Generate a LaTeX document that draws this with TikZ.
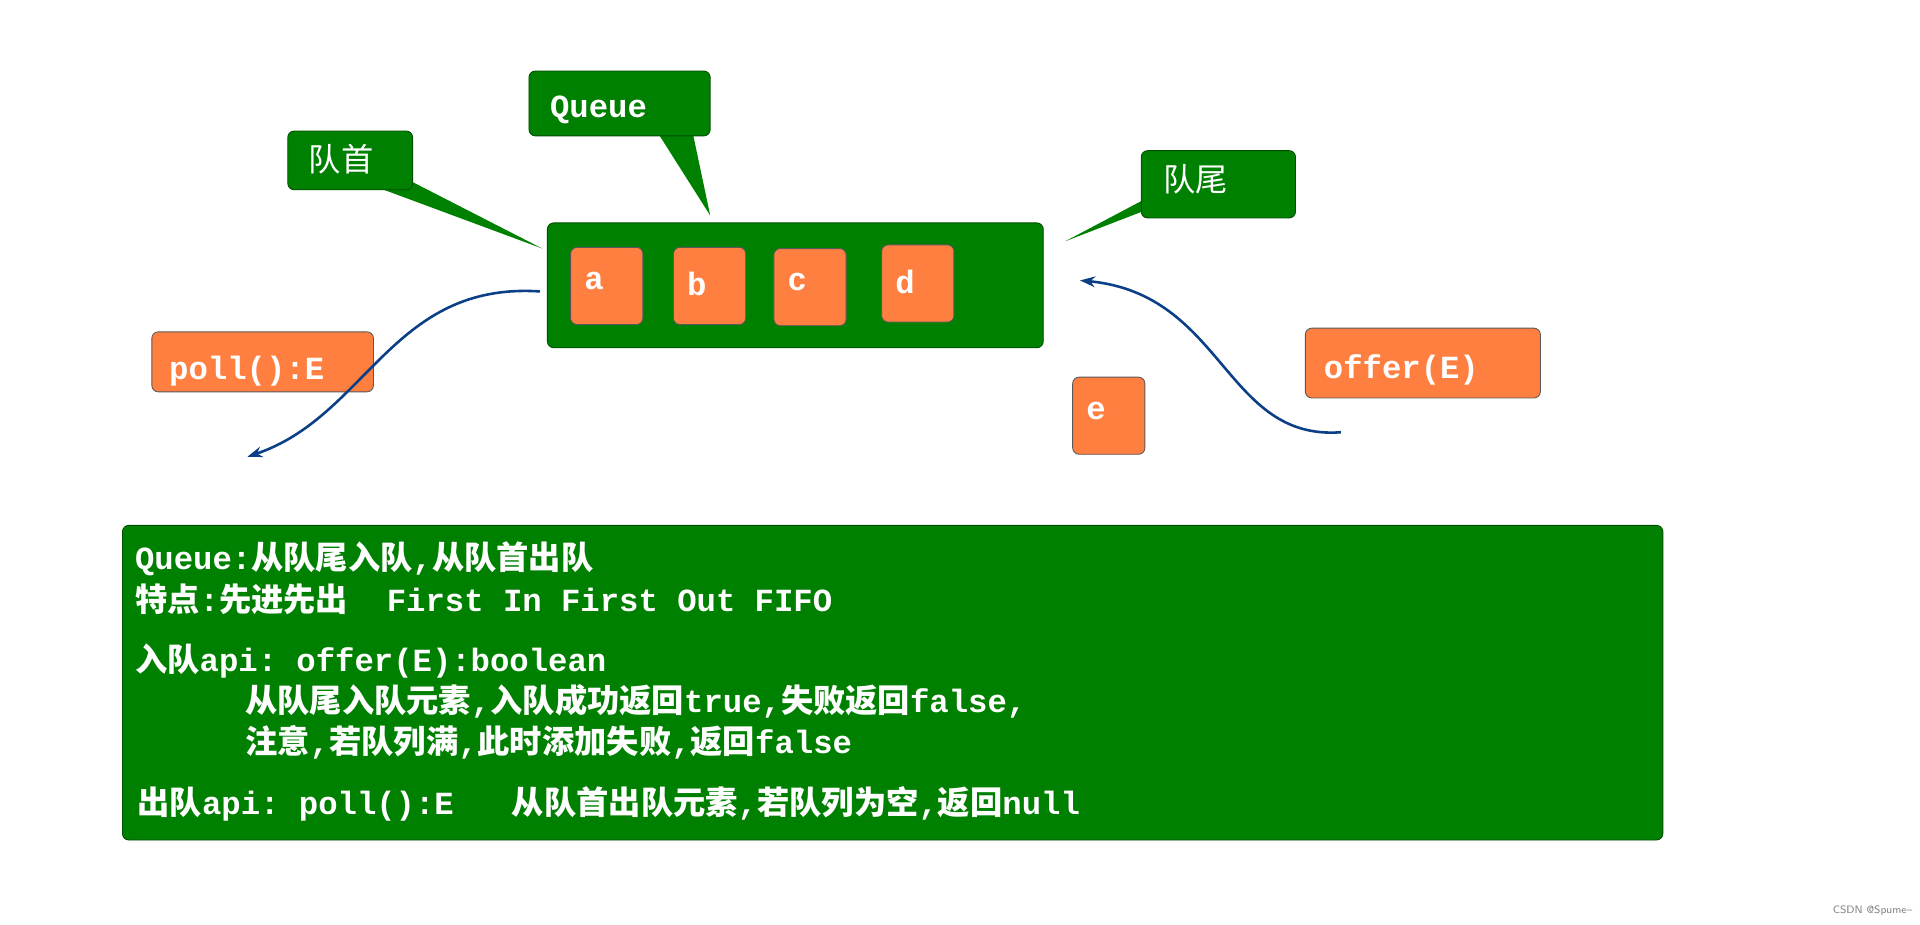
\documentclass[tikz,border=0pt]{standalone}
\usetikzlibrary{arrows.meta}
\usepackage{fontspec}
\setmonofont{Liberation Mono}
\newfontfamily\cjk{Noto Sans CJK SC}
\definecolor{qg}{HTML}{008000}
\definecolor{qo}{HTML}{FF7F41}
\definecolor{qb}{HTML}{0B3F87}
\begin{document}
\begin{tikzpicture}[x=0.02cm,y=-0.02cm,
  gbox/.style={fill=qg,draw=qg!60!black,rounded corners=3pt,inner sep=0},
  obox/.style={fill=qo,draw=gray!70!black,line width=0.4pt,rounded corners=3pt,inner sep=0},
  lbl/.style={text=white,font=\ttfamily\bfseries\fontsize{15}{18}\selectfont,anchor=north west},
  clbl/.style={text=white,font=\cjk\fontsize{15}{18}\selectfont,anchor=north west},
  arr/.style={qb,line width=1.2pt,-{Stealth[length=7pt,width=5pt]}}]
\useasboundingbox (0,0) rectangle (1568,755);
% queue box
\draw[gbox] (447,182) rectangle (852,284);
\node[inner sep=0] (queue) at (649,233) {};
\foreach \n/\x/\y in {a/466/202,b/550/202,c/632/203,d/720/200,e/876/308}{
  \draw[obox] (\x,\y) rectangle ++(59,63);
  \node[lbl] (\n) at (\x+5,\y+14) {\n};
}
% callouts
\fill[qg] (320,140) -- (443,203) -- (300,150) -- cycle;
\draw[gbox] (235,107) rectangle (337,155);
\node[clbl] (head) at (246,112) {队首};
\fill[qg] (535,105) -- (580,176) -- (565,105) -- cycle;
\draw[gbox] (432,58) rectangle (580,111);
\node[lbl] (qlab) at (443,72) {Queue};
\fill[qg] (940,160) -- (870,197) -- (940,170) -- cycle;
\draw[gbox] (932,123) rectangle (1058,178);
\node[clbl] (tail) at (944,128) {队尾};
% poll/offer
\draw[obox] (124,271) rectangle (305,320);
\node[lbl] (poll) at (132,285) {poll():E};
\draw[obox] (1066,268) rectangle (1258,325);
\node[lbl] (offer) at (1075,283) {offer(E)};
\coordinate (p1) at (441,238); \coordinate (p2) at (202,373);
\draw[arr] (p1) .. controls (320,230) and (300,340) .. (p2);
\coordinate (o1) at (1095,353); \coordinate (o2) at (882,229);
\draw[arr] (o1) .. controls (1000,360) and (1000,240) .. (o2);
% info box
\draw[gbox] (100,429) rectangle (1358,686);
\begin{scope}[every node/.style={text=white,anchor=base west,inner sep=0,font=\ttfamily\bfseries\fontsize{15}{18}\selectfont}]
\node (l1) at (110,465) {Queue:{\cjk 从队尾入队},{\cjk 从队首出队}};
\node (l2) at (110,499) {{\cjk 特点}:{\cjk 先进先出}\ \ First In First Out FIFO};
\node (l3) at (110,548) {{\cjk 入队}api: offer(E):boolean};
\node (l4) at (200,582) {{\cjk 从队尾入队元素},{\cjk 入队成功返回}true,{\cjk 失败返回}false,};
\node (l5) at (200,615) {{\cjk 注意},{\cjk 若队列满},{\cjk 此时添加失败},{\cjk 返回}false};
\node (l6) at (112,665) {{\cjk 出队}api: poll():E\ \ \ {\cjk 从队首出队元素},{\cjk 若队列为空},{\cjk 返回}null};
\end{scope}
\node[anchor=base east,text=gray,font=\sffamily\fontsize{5}{6}\selectfont,inner sep=0] (wm) at (1562,746) {CSDN @Spume--};
\end{tikzpicture}
\end{document}
